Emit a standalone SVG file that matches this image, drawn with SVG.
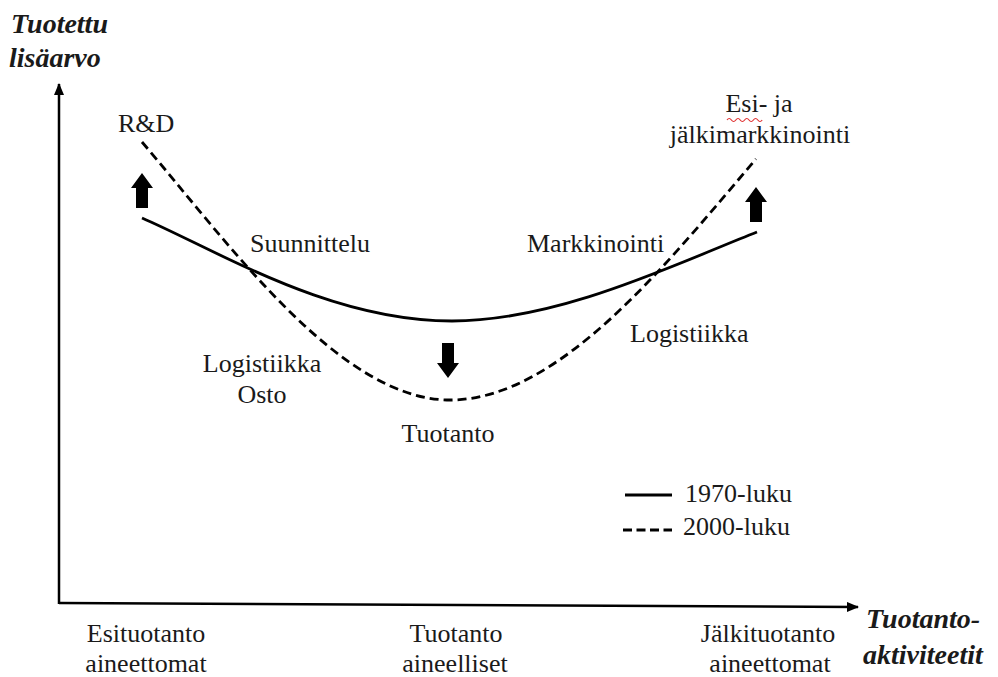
<svg xmlns="http://www.w3.org/2000/svg" width="998" height="677" viewBox="0 0 998 677">
  <defs>
    <marker id="axisHead" viewBox="0 0 12 10" refX="11" refY="5" markerWidth="12" markerHeight="10" markerUnits="userSpaceOnUse" orient="auto">
      <path d="M0,0 L12,5 L0,10 Z" fill="#000"/>
    </marker>
    <path id="bigArrowUp" d="M0,0 L11,15 L6,15 L6,35 L-6,35 L-6,15 L-11,15 Z" fill="#000"/>
  </defs>
  <style>
    .lbl { font-size: 26px; }
    .axis-title { font-size: 28px; font-weight: bold; font-style: italic; }
    .axis { stroke: #000; stroke-width: 2.5; fill: none; }
    .c1970 { stroke: #000; stroke-width: 2.8; fill: none; }
    .c2000 { stroke: #000; stroke-width: 2.8; fill: none; stroke-dasharray: 9 5; }
  </style>
  <rect width="998" height="677" fill="#fff"/>

  <!-- axes -->
  <g id="axes">
    <path class="axis" d="M59,604 L59,84" marker-end="url(#axisHead)"/>
    <path class="axis" d="M59,603 L858,607" marker-end="url(#axisHead)"/>
  </g>

  <!-- value curves -->
  <g id="connectors">
    <path id="curve-1970" class="c1970" d="M142,218 C220,252 330,321 452,321 C560,321 680,262 757,232"/>
    <path id="curve-2000" class="c2000" d="M142,142 C230,245 340,400 450,400 C560,400 668,262 756,159"/>
  </g>

  <!-- shift arrows -->
  <g id="shift-arrows">
    <use href="#bigArrowUp" x="142" y="173"/>
    <use href="#bigArrowUp" x="756" y="187"/>
    <use href="#bigArrowUp" transform="translate(448,378) rotate(180)"/>
  </g>

  <g font-family="'Liberation Serif', 'Times New Roman', serif" fill="#1a1a1a">
  <g id="axis-y-title">
    <text class="axis-title" x="11" y="33">Tuotettu</text>
    <text class="axis-title" x="9" y="67">lisäarvo</text>
  </g>
  <g id="axis-x-title">
    <text class="axis-title" x="866" y="628">Tuotanto-</text>
    <text class="axis-title" x="863" y="664">aktiviteetit</text>
  </g>

  <g id="rd"><text class="lbl" x="118" y="132">R&amp;D</text></g>
  <g id="esi-ja">
    <text class="lbl" x="759" y="112" text-anchor="middle">Esi- ja</text>
    <path d="M727,120 q2.2,-3 4.4,0 t4.4,0 t4.4,0 t4.4,0 t4.4,0 t4.4,0 t4.4,0 t4.4,0" fill="none" stroke="#e03030" stroke-width="1.2"/>
    <text class="lbl" x="760" y="143" text-anchor="middle">jälkimarkkinointi</text>
  </g>
  <g id="suunnittelu"><text class="lbl" x="250" y="252">Suunnittelu</text></g>
  <g id="markkinointi"><text class="lbl" x="527" y="252">Markkinointi</text></g>
  <g id="logistiikka-right"><text class="lbl" x="630" y="342">Logistiikka</text></g>
  <g id="logistiikka-osto">
    <text class="lbl" x="262" y="372" text-anchor="middle">Logistiikka</text>
    <text class="lbl" x="262" y="403" text-anchor="middle">Osto</text>
  </g>
  <g id="tuotanto"><text class="lbl" x="448" y="442" text-anchor="middle">Tuotanto</text></g>

  <g id="legend">
    <line class="c1970" x1="625" y1="495" x2="672" y2="495"/>
    <text class="lbl" x="685" y="502">1970-luku</text>
    <line class="c2000" x1="623" y1="530" x2="672" y2="530" style="stroke-dasharray: 9 4.5"/>
    <text class="lbl" x="683" y="535">2000-luku</text>
  </g>

  <g id="phase-pre">
    <text class="lbl" x="146" y="642" text-anchor="middle">Esituotanto</text>
    <text class="lbl" x="146" y="672" text-anchor="middle">aineettomat</text>
  </g>
  <g id="phase-production">
    <text class="lbl" x="456" y="642" text-anchor="middle">Tuotanto</text>
    <text class="lbl" x="455" y="672" text-anchor="middle">aineelliset</text>
  </g>
  <g id="phase-post">
    <text class="lbl" x="768" y="642" text-anchor="middle">Jälkituotanto</text>
    <text class="lbl" x="770" y="672" text-anchor="middle">aineettomat</text>
  </g>
  </g>
</svg>
